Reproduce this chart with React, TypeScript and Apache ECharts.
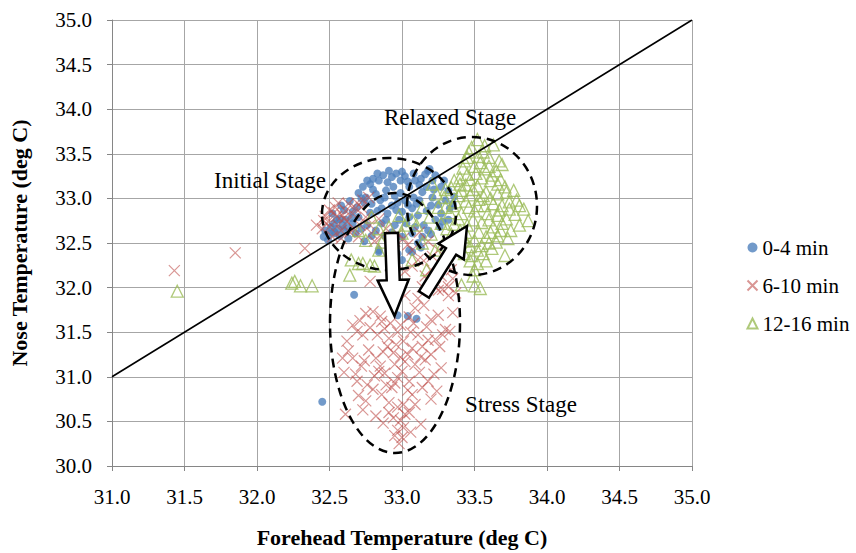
import React, { useEffect, useRef } from "react";
import * as echarts from "echarts";

const seriesNames = ["0-4 min", "6-10 min", "12-16 min"];
const xAxisTitle = "Forehead Temperature (deg C)";
const yAxisTitle = "Nose Temperature (deg C)";
const stageLabels = ["Initial Stage", "Relaxed Stage", "Stress Stage"];
const diagonalLine: number[][] = [[31, 31], [35, 35]];

const blueData: number[][] = [
  [32.73, 33.13], [32.78, 33.16], [32.84, 33.2], [32.87, 33.26], [32.93, 33.24], [32.91, 33.31], [32.99, 33.2],
  [33.05, 33.13], [33.09, 33.2], [33.16, 33.27], [33.19, 33.33], [33.23, 33.26], [32.75, 33.01], [32.82, 33.05],
  [32.89, 33.09], [32.95, 33.03], [33.02, 32.98], [33.08, 33.01], [33.14, 33.07], [33.21, 33.01], [32.79, 32.94],
  [32.86, 32.89], [32.93, 32.92], [33.0, 32.85], [33.07, 32.89], [32.52, 32.83], [32.55, 32.76], [32.6, 32.87],
  [32.51, 32.68], [32.54, 32.61], [32.6, 32.64], [32.66, 32.72], [32.7, 32.79], [32.63, 32.55], [32.68, 32.61],
  [32.76, 32.7], [32.82, 32.64], [32.89, 32.76], [32.95, 32.7], [33.05, 32.79], [33.11, 32.81], [33.15, 32.7],
  [33.0, 32.57], [33.07, 32.61], [33.11, 32.5], [33.05, 32.42], [33.0, 32.31], [32.84, 32.42], [32.91, 32.46],
  [32.47, 32.64], [32.49, 32.53], [32.57, 32.77], [33.18, 33.31], [33.21, 33.2], [33.27, 33.13], [33.32, 33.09],
  [33.3, 32.98], [33.33, 32.89], [33.27, 32.83], [33.23, 32.76], [33.18, 32.64], [33.14, 32.57], [33.32, 32.76],
  [33.26, 32.68], [33.07, 32.4], [32.84, 32.4], [32.91, 32.31], [32.8, 33.22], [32.96, 33.28], [33.02, 33.25],
  [33.12, 33.15], [32.7, 33.06], [32.64, 32.97], [32.58, 32.92], [32.53, 32.72], [32.57, 32.58], [32.62, 32.68],
  [32.72, 32.66], [32.78, 32.84], [32.85, 32.98], [32.97, 32.95], [33.1, 32.94], [33.17, 32.86], [33.25, 32.93],
  [32.98, 32.76], [32.88, 32.58], [32.74, 32.52],
  [32.76, 33.2], [32.83, 33.28], [32.9, 33.18], [32.94, 33.13], [33.0, 33.3], [33.04, 33.19], [33.08, 33.28],
  [33.13, 33.22], [33.17, 33.13], [33.22, 33.1], [32.72, 33.0], [32.8, 33.1], [32.88, 33.01], [32.99, 33.06],
  [33.04, 32.93], [33.12, 32.98], [33.2, 32.92], [32.66, 32.85], [32.61, 32.76], [32.56, 32.66], [32.5, 32.6],
  [32.46, 32.57], [32.53, 32.63], [32.59, 32.7], [32.65, 32.78], [32.69, 32.9], [32.74, 32.95], [32.83, 32.86],
  [32.9, 32.83], [32.96, 32.87], [33.03, 32.72], [33.09, 32.68], [33.2, 32.6], [33.28, 32.74], [33.35, 32.94],
  [33.36, 33.02], [33.29, 33.2], [32.93, 32.62], [32.86, 32.72], [32.79, 32.58], [33.13, 32.45], [32.97, 32.38],
  [32.45, 30.72], [32.67, 31.92], [32.97, 31.69], [33.04, 31.68], [33.1, 31.65], [33.2, 31.99],
];

const redData: number[][] = [
  [31.43, 32.19], [31.85, 32.39], [32.33, 32.44],
  [32.5, 32.87], [32.54, 32.9], [32.59, 32.81], [32.63, 32.94], [32.68, 32.89], [32.73, 32.98], [32.77, 33.01],
  [32.62, 32.74], [32.67, 32.66], [32.58, 32.64], [32.52, 32.57], [32.7, 32.57], [32.79, 32.61], [32.86, 32.57],
  [32.93, 32.5], [33.01, 32.55], [33.07, 32.42], [32.49, 32.74], [32.45, 32.66], [32.84, 32.77], [32.75, 32.79],
  [32.66, 32.83], [32.56, 32.7], [32.6, 32.78], [32.47, 32.8], [32.53, 32.84], [32.64, 32.62], [32.71, 32.7],
  [32.81, 32.52], [32.97, 32.6], [33.12, 32.62], [33.18, 32.52], [32.41, 32.7], [32.56, 32.95], [32.72, 32.9],
  [32.5, 32.68], [32.55, 32.8], [32.61, 32.86], [32.69, 32.95], [32.74, 32.74], [32.78, 32.7], [32.89, 32.66],
  [32.95, 32.52], [33.04, 32.48], [32.58, 32.55], [32.46, 32.75], [33.15, 32.3], [33.21, 32.35],
  [33.07, 32.24], [33.16, 32.13], [33.23, 32.01], [33.27, 32.13], [33.32, 32.01], [33.37, 31.94], [33.11, 32.31],
  [33.3, 32.31], [33.25, 32.42], [33.34, 32.2], [33.14, 32.01], [32.78, 32.07], [33.2, 32.2], [33.02, 32.18],
  [33.35, 32.1], [33.28, 31.98], [33.18, 32.08],
  [32.75, 31.71], [32.8, 31.73], [32.69, 31.51], [32.73, 31.47], [32.83, 31.47], [32.88, 31.54], [32.91, 31.43],
  [32.99, 31.58], [33.05, 31.67], [33.09, 31.77], [33.15, 31.8], [33.2, 31.64], [33.25, 31.69], [33.28, 31.47],
  [33.11, 31.47], [33.14, 31.34], [33.07, 31.32], [33.2, 31.25], [33.26, 31.34], [32.63, 31.29], [32.66, 31.21],
  [32.77, 31.3], [32.82, 31.21], [32.84, 31.06], [32.81, 31.01], [32.88, 31.04], [32.95, 31.14], [33.02, 31.17],
  [33.09, 31.14], [33.16, 31.19], [32.97, 30.99], [33.05, 30.95], [33.22, 31.03], [33.24, 30.84], [33.14, 30.88],
  [32.7, 30.79], [32.75, 30.73], [32.86, 30.8], [32.91, 30.71], [32.97, 30.66], [33.01, 30.69], [33.09, 30.69],
  [32.61, 30.58], [32.94, 30.54], [32.99, 30.51], [33.02, 30.58], [33.13, 30.47], [32.97, 30.4], [33.0, 30.32],
  [32.98, 30.25], [33.01, 30.43], [32.59, 31.21], [32.68, 31.03], [32.76, 30.91], [32.72, 31.12], [32.9, 31.34],
  [33.01, 31.4], [32.94, 31.27], [33.3, 31.53], [33.33, 31.51], [33.18, 31.41], [32.82, 30.56], [33.07, 30.8],
  [32.93, 30.88], [32.89, 30.91], [33.0, 31.06], [33.02, 31.91], [33.11, 31.88], [33.32, 31.91], [33.25, 31.97],
  [32.86, 31.62], [32.96, 31.36], [33.04, 31.25], [32.85, 31.12], [33.12, 31.05],
  [32.66, 31.58], [32.71, 31.63], [32.78, 31.55], [32.85, 31.68], [32.92, 31.6], [33.06, 31.5], [33.17, 31.56],
  [33.23, 31.42], [33.13, 31.22], [32.99, 31.22], [32.87, 31.28], [32.74, 31.18], [32.62, 31.4], [32.69, 30.95],
  [32.8, 30.86], [32.95, 30.93], [33.04, 30.85], [33.18, 30.95], [33.27, 31.1], [32.91, 30.6], [33.05, 30.6],
  [32.87, 30.48], [33.06, 30.38], [32.95, 30.34], [32.73, 30.63], [33.2, 30.75], [32.97, 31.5], [33.08, 31.6],
  [32.6, 31.05], [33.35, 31.72],
];

const greenData: number[][] = [
  [31.45, 31.96], [32.24, 32.05], [32.26, 32.07], [32.3, 32.02], [32.38, 32.02], [32.64, 32.14], [32.78, 32.25],
  [33.41, 32.03], [33.5, 32.02], [33.54, 31.99], [32.7, 32.27],
  [33.52, 33.66], [33.57, 33.59], [33.48, 33.57], [33.63, 33.6], [33.45, 33.46], [33.53, 33.47], [33.6, 33.46],
  [33.67, 33.42], [33.42, 33.34], [33.5, 33.36], [33.57, 33.33], [33.65, 33.31], [33.69, 33.38], [33.4, 33.23],
  [33.47, 33.21], [33.55, 33.23], [33.61, 33.2], [33.68, 33.21], [33.77, 33.09], [33.34, 33.12], [33.41, 33.09],
  [33.49, 33.1], [33.58, 33.07], [33.66, 33.05], [33.72, 33.07], [33.29, 33.01], [33.37, 32.96], [33.44, 32.97],
  [33.53, 32.99], [33.63, 32.94], [33.69, 32.92], [33.84, 32.88], [33.87, 32.75], [33.81, 32.7], [33.75, 32.64],
  [33.33, 32.84], [33.41, 32.83], [33.5, 32.86], [33.59, 32.83], [33.66, 32.81], [33.72, 32.77], [33.36, 32.71],
  [33.45, 32.7], [33.55, 32.73], [33.63, 32.68], [33.68, 32.64], [33.34, 32.6], [33.42, 32.57], [33.5, 32.53],
  [33.58, 32.57], [33.65, 32.51], [33.47, 32.46], [33.55, 32.47], [33.48, 32.36], [33.52, 32.27], [33.71, 32.36],
  [33.37, 32.42], [33.5, 32.2], [32.79, 32.79], [32.84, 32.66], [32.91, 32.68], [32.98, 32.81], [33.07, 32.76],
  [33.14, 32.9], [33.19, 32.79], [32.7, 32.64], [32.75, 32.53], [32.84, 32.42], [32.65, 32.31], [32.73, 32.27],
  [33.14, 32.5], [33.07, 32.31], [33.23, 32.42], [33.17, 32.2], [32.81, 32.24], [33.21, 33.16], [33.24, 33.05],
  [32.93, 32.57], [32.86, 32.51], [33.0, 32.61], [33.46, 33.52], [33.54, 33.4], [33.62, 33.26], [33.44, 33.15],
  [33.52, 33.14], [33.46, 32.9], [33.57, 32.92], [33.61, 32.62], [33.44, 32.62], [33.39, 32.5], [33.56, 32.38],
  [33.62, 32.44], [33.79, 32.98], [33.74, 32.88], [33.3, 32.9], [33.27, 32.72], [33.47, 32.3],
  [33.43, 33.42], [33.56, 33.52], [33.6, 33.36], [33.51, 33.28], [33.45, 33.27], [33.66, 33.16], [33.71, 33.13],
  [33.39, 33.03], [33.47, 33.04], [33.56, 33.03], [33.61, 33.0], [33.74, 32.96], [33.81, 32.92], [33.35, 32.92],
  [33.52, 32.92], [33.67, 32.87], [33.78, 32.82], [33.39, 32.77], [33.49, 32.76], [33.6, 32.76], [33.69, 32.72],
  [33.31, 32.66], [33.4, 32.64], [33.53, 32.62], [33.66, 32.58], [33.73, 32.55], [33.35, 32.52], [33.44, 32.52],
  [33.6, 32.5], [33.52, 32.42], [33.43, 32.38], [33.58, 32.3], [33.49, 32.13], [33.28, 32.48], [33.2, 32.6],
  [33.1, 32.7], [33.02, 32.7], [33.25, 32.9], [33.3, 33.1], [33.36, 33.2], [33.4, 33.16],
];

const FONT = "'Liberation Serif', 'Times New Roman', serif";

function blockArrow(
  tail: [number, number],
  tip: [number, number],
  shaftW: number,
  headW: number,
  headL: number
): number[][] {
  const dx = tip[0] - tail[0];
  const dy = tip[1] - tail[1];
  const L = Math.hypot(dx, dy);
  const ux = dx / L;
  const uy = dy / L;
  const nx = -uy;
  const ny = ux;
  const bx = tip[0] - ux * headL;
  const by = tip[1] - uy * headL;
  return [
    [tail[0] + (nx * shaftW) / 2, tail[1] + (ny * shaftW) / 2],
    [bx + (nx * shaftW) / 2, by + (ny * shaftW) / 2],
    [bx + (nx * headW) / 2, by + (ny * headW) / 2],
    [tip[0], tip[1]],
    [bx - (nx * headW) / 2, by - (ny * headW) / 2],
    [bx - (nx * shaftW) / 2, by - (ny * shaftW) / 2],
    [tail[0] - (nx * shaftW) / 2, tail[1] - (ny * shaftW) / 2],
  ];
}

export default function App() {
  const ref = useRef<HTMLDivElement>(null);
  useEffect(() => {
    if (!ref.current) return;
    const chart = echarts.init(ref.current, null, { renderer: "svg" });
    const dashStyle = { fill: "none", stroke: "#000", lineWidth: 2.5, lineDash: [9, 6] };
    const arrowStyle = { fill: "#fff", stroke: "#000", lineWidth: 2.5 };
    const textStyle = (t: string) => ({
      text: t,
      font: `23px ${FONT}`,
      fill: "#000",
      textAlign: "center",
      textVerticalAlign: "middle",
      align: "center",
      verticalAlign: "middle",
    });
    const axisCommon = {
      type: "value" as const,
      interval: 0.5,
      axisLine: { show: true, lineStyle: { color: "#868686", width: 1 } },
      axisTick: { show: true, inside: false, length: 5, lineStyle: { color: "#868686" } },
      splitLine: { show: true, lineStyle: { color: "#a6a6a6", width: 1 } },
      axisLabel: {
        fontFamily: FONT,
        fontSize: 21,
        color: "#000",
        formatter: (v: number) => v.toFixed(1),
      },
      nameLocation: "middle" as const,
      nameTextStyle: { fontFamily: FONT, fontSize: 22, fontWeight: "bold", color: "#000" },
    };
    chart.setOption({
      animation: false,
      backgroundColor: "#fff",
      grid: { left: 107, right: 164, top: 20, bottom: 83, containLabel: false },
      xAxis: {
        ...axisCommon,
        min: 31,
        max: 35,
        name: xAxisTitle,
        nameGap: 60,
        axisLabel: { ...axisCommon.axisLabel, margin: 20 },
      },
      yAxis: {
        ...axisCommon,
        min: 30,
        max: 35,
        name: yAxisTitle,
        nameGap: 82,
        axisLabel: { ...axisCommon.axisLabel, margin: 20 },
      },
      legend: {
        data: seriesNames,
        orient: "vertical",
        left: 740,
        top: 232,
        itemWidth: 10,
        itemHeight: 10,
        itemGap: 17,
        textStyle: { fontFamily: FONT, fontSize: 21, color: "#000", lineHeight: 21 },
      },
      series: [
        {
          name: seriesNames[0],
          type: "scatter",
          data: blueData,
          symbol: "circle",
          symbolSize: 8,
          itemStyle: { color: "#4f81bd" },
          z: 2,
        },
        {
          name: seriesNames[1],
          type: "scatter",
          data: redData,
          symbol: "path://M0,0L10,10M10,0L0,10",
          symbolSize: 11,
          itemStyle: { color: "none", borderColor: "rgba(192,80,77,0.75)", borderWidth: 1.2 },
          z: 3,
        },
        {
          name: seriesNames[2],
          type: "scatter",
          data: greenData,
          symbol: "triangle",
          symbolSize: 12,
          itemStyle: { color: "none", borderColor: "#9bbb59", borderWidth: 1.3 },
          z: 4,
        },
        {
          name: "diagonal",
          type: "line",
          data: diagonalLine,
          symbol: "none",
          silent: true,
          lineStyle: { color: "#000", width: 1.6 },
          z: 5,
        },
      ],
      graphic: [
        { type: "ellipse", shape: { cx: 389, cy: 214, rx: 67, ry: 56 }, style: dashStyle, z: 100 },
        { type: "ellipse", shape: { cx: 472, cy: 206, rx: 65, ry: 69 }, style: dashStyle, z: 100 },
        { type: "ellipse", shape: { cx: 395, cy: 323, rx: 65, ry: 130 }, style: dashStyle, z: 100 },
        {
          type: "polygon",
          shape: { points: blockArrow([391.5, 233], [394.5, 316], 13, 31, 36) },
          style: arrowStyle,
          z: 101,
        },
        {
          type: "polygon",
          shape: { points: blockArrow([424, 294.5], [467, 226], 12, 30, 30) },
          style: arrowStyle,
          z: 101,
        },
        { type: "text", x: 270, y: 180, style: textStyle(stageLabels[0]), z: 102 },
        { type: "text", x: 450, y: 117, style: textStyle(stageLabels[1]), z: 102 },
        { type: "text", x: 521, y: 404, style: textStyle(stageLabels[2]), z: 102 },
      ],
    });
    return () => chart.dispose();
  }, []);
  return (
    <div
      ref={ref}
      style={{ position: "absolute", left: 0, top: 0, width: 856, height: 553 }}
    />
  );
}
